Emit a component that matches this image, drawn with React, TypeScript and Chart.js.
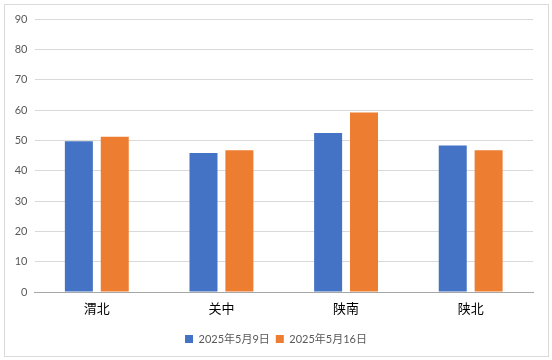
import React, { useEffect, useRef } from "react";
import { Chart, registerables } from "chart.js";

Chart.register(...registerables);

const categories = ["渭北", "关中", "陕南", "陕北"];
const seriesNames = ["2025年5月9日", "2025年5月16日"];
const series1 = [49.7, 45.8, 52.4, 48.3];
const series2 = [51.2, 46.7, 59.2, 46.7];
const yMin = 0;
const yMax = 90;
const yStep = 10;

export default function App() {
  const ref = useRef<HTMLCanvasElement | null>(null);

  useEffect(() => {
    if (!ref.current) return;
    const chart = new Chart(ref.current, {
      type: "bar",
      data: {
        labels: categories,
        datasets: [
          {
            label: seriesNames[0],
            data: series1,
            backgroundColor: "#4472C4",
            categoryPercentage: 0.576,
            barPercentage: 0.78,
          },
          {
            label: seriesNames[1],
            data: series2,
            backgroundColor: "#ED7D31",
            categoryPercentage: 0.576,
            barPercentage: 0.78,
          },
        ],
      },
      options: {
        responsive: false,
        animation: false,
        layout: { padding: { left: 0, right: 0, top: 19, bottom: 5.5 } },
        plugins: {
          tooltip: { enabled: false },
          legend: {
            position: "bottom",
            labels: {
              boxWidth: 8,
              boxHeight: 8,
              padding: 6,
              color: "#595959",
              font: { size: 11, family: "Lato, 'Noto Sans CJK SC', sans-serif" },
            },
          },
        },
        scales: {
          x: {
            grid: { display: false, drawTicks: false },
            border: { display: true, color: "#a6a6a6", width: 1 },
            ticks: {
              color: "#000000",
              padding: 8,
              font: { size: 13, family: "'Noto Sans CJK SC', sans-serif" },
            },
            afterFit: (s: any) => {
              s.height = 35.5;
            },
          },
          y: {
            min: yMin,
            max: yMax,
            ticks: {
              stepSize: yStep,
              color: "#595959",
              padding: 7,
              font: { size: 11, family: "Lato, sans-serif" },
            },
            grid: { color: "#d9d9d9", drawTicks: false },
            border: { display: false },
            afterFit: (s: any) => {
              s.width = 34.5;
            },
          },
          yRight: {
            type: "linear",
            position: "right",
            display: true,
            min: yMin,
            max: yMax,
            grid: { display: false, drawTicks: false },
            border: { display: false },
            ticks: { display: false },
            afterFit: (s: any) => {
              s.width = 19;
            },
          },
        },
      },
    });
    return () => chart.destroy();
  }, []);

  return (
    <div style={{ position: "fixed", left: 0, top: 0, width: 552, height: 360, background: "#fff" }}>
      <canvas ref={ref} width={552} height={360} style={{ position: "absolute", left: 0, top: 0 }} />
      <div
        style={{
          position: "absolute",
          left: 4,
          top: 4,
          width: 545,
          height: 353,
          border: "1px solid #d9d9d9",
          boxSizing: "border-box",
          pointerEvents: "none",
        }}
      />
    </div>
  );
}
